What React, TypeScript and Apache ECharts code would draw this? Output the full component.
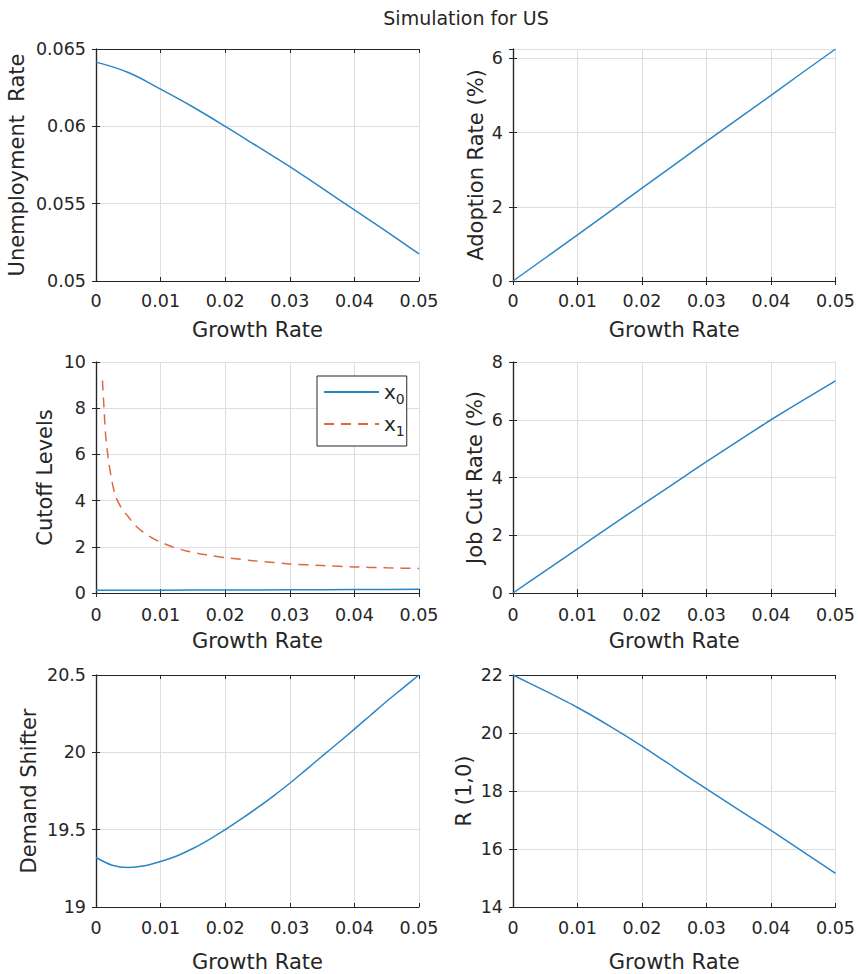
import React, { useEffect, useRef } from "react";
import * as echarts from "echarts";

// Growth-rate grid shared by most panels
const growthRate = [0, 0.005, 0.01, 0.015, 0.02, 0.025, 0.03, 0.035, 0.04, 0.045, 0.05];

const unemploymentRate = [0.06415, 0.06348, 0.0624, 0.06125, 0.06, 0.0587, 0.0574, 0.056, 0.0546, 0.0532, 0.05175];

const adoptionRate = [0, 0.62, 1.24, 1.87, 2.5, 3.13, 3.76, 4.38, 5.0, 5.63, 6.25];
const jobCutRate = [0, 0.77, 1.53, 2.3, 3.05, 3.8, 4.55, 5.28, 6.0, 6.68, 7.35];

const cutoffX0 = [0.12, 0.12, 0.12, 0.125, 0.13, 0.135, 0.14, 0.145, 0.15, 0.155, 0.16];
const cutoffGrowth = [0.001, 0.0012, 0.0015, 0.002, 0.0025, 0.003, 0.0035, 0.004, 0.005, 0.006, 0.007, 0.008, 0.009, 0.01, 0.012, 0.014, 0.016, 0.018, 0.02, 0.025, 0.03, 0.035, 0.04, 0.045, 0.05];
const cutoffX1 = [9.2, 8.2, 6.8, 5.6, 4.8, 4.2, 3.9, 3.65, 3.3, 2.95, 2.7, 2.5, 2.33, 2.2, 1.98, 1.82, 1.7, 1.61, 1.53, 1.38, 1.26, 1.19, 1.13, 1.09, 1.06];

const demandGrowth = [0, 0.0025, 0.005, 0.0075, 0.01, 0.0125, 0.015, 0.0175, 0.02, 0.0225, 0.025, 0.0275, 0.03, 0.0325, 0.035, 0.0375, 0.04, 0.0425, 0.045, 0.0475, 0.05];
const demandShifter = [19.32, 19.27, 19.255, 19.266, 19.294, 19.33, 19.378, 19.436, 19.5, 19.569, 19.642, 19.719, 19.8, 19.887, 19.975, 20.062, 20.15, 20.24, 20.33, 20.415, 20.5];

const rOneZero = [22.0, 21.45, 20.88, 20.24, 19.55, 18.81, 18.07, 17.35, 16.64, 15.9, 15.16];

const xAxisLabel = "Growth Rate";
const chartTitle = "Simulation for US";

const BLUE = "#2a86c6";
const ORANGE = "#dd6a3c";
const INK = "#262626";
const FONT = "DejaVu Sans";

const zip = (xs: number[], ys: number[]) => xs.map((x, i) => [x, ys[i]]);

type Panel = {
  left: number;
  top: number;
  width: number;
  height: number;
  yName: string;
  yMin: number;
  yMax: number;
  yStep: number;
  yNameGap: number;
  xNameGap: number;
  xLabelMargin: number;
};

const panels: Panel[] = [
  { left: 96, top: 49, width: 323, height: 232, yName: "Unemployment  Rate", yMin: 0.05, yMax: 0.065, yStep: 0.005, yNameGap: 69, xNameGap: 38, xLabelMargin: 11 },
  { left: 513, top: 49, width: 324, height: 232, yName: "Adoption Rate (%)", yMin: 0, yMax: 6.25, yStep: 2, yNameGap: 27, xNameGap: 38, xLabelMargin: 11 },
  { left: 96, top: 362, width: 323, height: 231, yName: "Cutoff Levels", yMin: 0, yMax: 10, yStep: 2, yNameGap: 41, xNameGap: 37, xLabelMargin: 13 },
  { left: 513, top: 362, width: 324, height: 231, yName: "Job Cut Rate (%)", yMin: 0, yMax: 8, yStep: 2, yNameGap: 28, xNameGap: 37, xLabelMargin: 13 },
  { left: 96, top: 675, width: 323, height: 232, yName: "Demand Shifter", yMin: 19, yMax: 20.5, yStep: 0.5, yNameGap: 57, xNameGap: 44, xLabelMargin: 12 },
  { left: 513, top: 675, width: 324, height: 232, yName: "R (1,0)", yMin: 14, yMax: 22, yStep: 2, yNameGap: 39, xNameGap: 44, xLabelMargin: 12 },
];

function buildOption() {
  const grid: any[] = [];
  const xAxis: any[] = [];
  const yAxis: any[] = [];
  const frameLine = { show: true, lineStyle: { color: INK, width: 1.2 } };
  const tick = { show: true, inside: true, length: 4, lineStyle: { color: INK } };

  panels.forEach((p, i) => {
    grid.push({ left: p.left, top: p.top, width: p.width, height: p.height, containLabel: false });
    const xCommon = { type: "value", gridIndex: i, min: 0, max: 0.05, interval: 0.01 };
    xAxis.push({
      ...xCommon,
      position: "bottom",
      name: xAxisLabel,
      nameLocation: "middle",
      nameGap: p.xNameGap,
      nameTextStyle: { fontFamily: FONT, fontSize: 21, color: INK },
      axisLine: frameLine,
      axisTick: tick,
      axisLabel: { margin: p.xLabelMargin, fontFamily: FONT, fontSize: 17.5, color: INK },
      splitLine: { show: true, lineStyle: { color: "#dedede", width: 1 } },
    });
    xAxis.push({
      ...xCommon,
      position: "top",
      axisLine: frameLine,
      axisTick: tick,
      axisLabel: { show: false },
      splitLine: { show: false },
    });
    const yCommon = { type: "value", gridIndex: i, min: p.yMin, max: p.yMax, interval: p.yStep };
    yAxis.push({
      ...yCommon,
      position: "left",
      name: p.yName,
      nameLocation: "middle",
      nameGap: p.yNameGap,
      nameTextStyle: { fontFamily: FONT, fontSize: 21, color: INK },
      axisLine: frameLine,
      axisTick: tick,
      axisLabel: {
        margin: 10,
        fontFamily: FONT,
        fontSize: 17.5,
        color: INK,
        showMaxLabel: Math.abs(p.yMax / p.yStep - Math.round(p.yMax / p.yStep)) < 1e-9,
      },
      splitLine: { show: true, lineStyle: { color: "#dedede", width: 1 } },
    });
    yAxis.push({
      ...yCommon,
      position: "right",
      axisLine: frameLine,
      axisTick: tick,
      axisLabel: { show: false },
      splitLine: { show: false },
    });
  });

  const line = (name: string, panel: number, data: number[][], color: string, smooth: number | boolean, dashed = false) => ({
    name,
    type: "line",
    xAxisIndex: panel * 2,
    yAxisIndex: panel * 2,
    data,
    smooth,
    symbol: "none",
    lineStyle: { color, width: 1.5, type: dashed ? [10, 7] : "solid" },
    itemStyle: { color },
  });

  return {
    animation: false,
    backgroundColor: "#ffffff",
    grid,
    xAxis,
    yAxis,
    graphic: [
      {
        type: "text",
        x: 466,
        y: 18,
        style: {
          text: chartTitle,
          fontFamily: FONT,
          fontSize: 19,
          fill: INK,
          textAlign: "center",
          textVerticalAlign: "middle",
        },
      },
    ],
    legend: {
      data: ["x0", "x1"],
      left: 317,
      top: 376,
      orient: "vertical",
      backgroundColor: "#ffffff",
      borderColor: INK,
      borderWidth: 1,
      borderRadius: 0,
      padding: [6, 2, 8, 6],
      itemWidth: 55,
      itemHeight: 14,
      itemGap: 8,
      itemStyle: { opacity: 0 },
      formatter: (name: string) => `{v|x}{s|${name.slice(1)}}`,
      textStyle: {
        color: INK,
        rich: {
          v: { fontFamily: FONT, fontSize: 20, color: INK },
          s: { fontFamily: FONT, fontSize: 14, color: INK, padding: [14, 0, 0, 0] },
        },
      },
    },
    series: [
      line("Unemployment", 0, zip(growthRate, unemploymentRate), BLUE, 0.4),
      line("Adoption", 1, zip(growthRate, adoptionRate), BLUE, false),
      line("x0", 2, zip(growthRate, cutoffX0), BLUE, false),
      line("x1", 2, zip(cutoffGrowth, cutoffX1), ORANGE, 0.2, true),
      line("JobCut", 3, zip(growthRate, jobCutRate), BLUE, 0.2),
      line("Demand", 4, zip(demandGrowth, demandShifter), BLUE, 0.3),
      line("R10", 5, zip(growthRate, rOneZero), BLUE, 0.2),
    ],
  };
}

export default function App() {
  const ref = useRef<HTMLDivElement>(null);
  useEffect(() => {
    if (!ref.current) return;
    const chart = echarts.init(ref.current, null, { renderer: "svg" });
    chart.setOption(buildOption() as any);
    return () => chart.dispose();
  }, []);
  return (
    <div
      ref={ref}
      style={{ position: "absolute", left: 0, top: 0, width: 858, height: 974, background: "#fff" }}
    />
  );
}
